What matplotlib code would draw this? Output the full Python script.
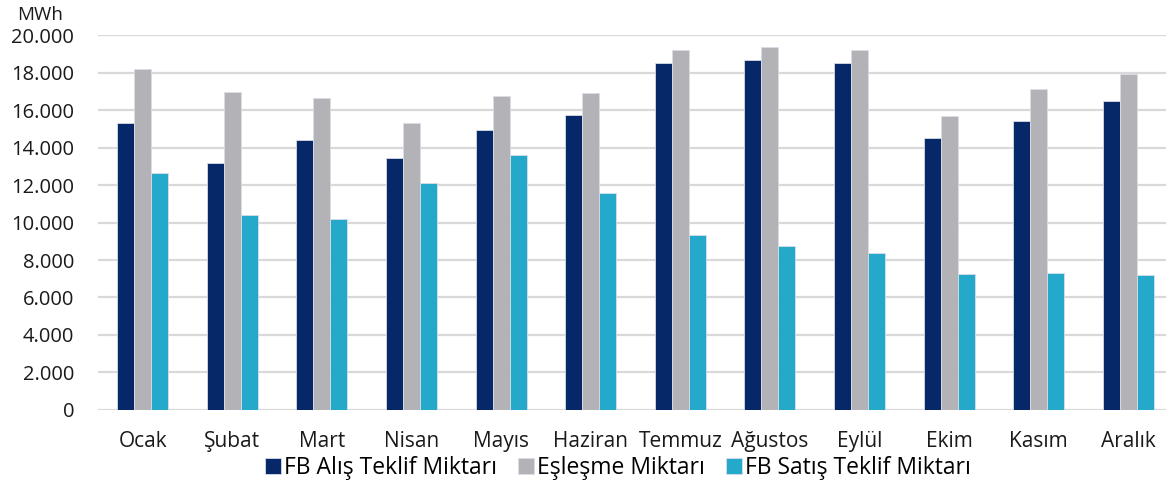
import numpy as np
from matplotlib import pyplot as plt
from matplotlib.ticker import FuncFormatter

months = ['Ocak', 'Şubat', 'Mart', 'Nisan', 'Mayıs', 'Haziran', 'Temmuz',
          'Ağustos', 'Eylül', 'Ekim', 'Kasım', 'Aralık']
alis = [15300, 13170, 14400, 13440, 14930, 15730, 18500, 18670, 18500, 14500, 15410, 16480]
esleme = [18190, 16960, 16640, 15300, 16750, 16900, 19200, 19360, 19200, 15680, 17120, 17920]
satis = [12640, 10400, 10190, 12100, 13600, 11570, 9330, 8750, 8370, 7250, 7300, 7200]
series_names = ['FB Alış Teklif Miktarı', 'Eşleşme Miktarı', 'FB Satış Teklif Miktarı']
colors = ['#072868', '#b3b3b7', '#25a9cb']

plt.rcParams['font.family'] = ['Open Sans', 'DejaVu Sans']

fig = plt.figure(figsize=(11.66, 4.88), dpi=100)
ax = fig.add_axes([0.084, 0.16, 0.916, 0.768])

x = np.arange(len(months))
w = 0.19
for i, (vals, name, c) in enumerate(zip([alis, esleme, satis], series_names, colors)):
    ax.bar(x + (i - 1) * w, vals, w, color=c, label=name,
           edgecolor='#d8dde6', linewidth=0.6, zorder=3)

ax.set_ylim(0, 20000)
ax.set_xlim(-0.5, 11.42)
ax.set_yticks(np.arange(0, 20001, 2000))
ax.yaxis.set_major_formatter(FuncFormatter(lambda v, p: f'{int(v):,}'.replace(',', '.')))
ax.grid(axis='y', color='#d9d9d9', linewidth=1.6, zorder=0)
ax.set_xticks(x)
ax.set_xticklabels(months)
ax.tick_params(axis='both', length=0, colors='#1a1a1a')
ax.tick_params(axis='y', labelsize=14.5, pad=17)
ax.tick_params(axis='x', labelsize=15, pad=15)
for s in ax.spines.values():
    s.set_visible(False)

fig.text(0.015, 0.97, 'MWh', fontsize=13.5, color='#1a1a1a', ha='left', va='center')

ax.legend(loc='center', bbox_to_anchor=(0.487, -0.155), ncol=3, frameon=False,
          fontsize=16.5, handlelength=0.7, handleheight=0.7, handletextpad=0.15,
          columnspacing=0.9, borderaxespad=0, borderpad=0)

fig.savefig('out.png', dpi=100)
